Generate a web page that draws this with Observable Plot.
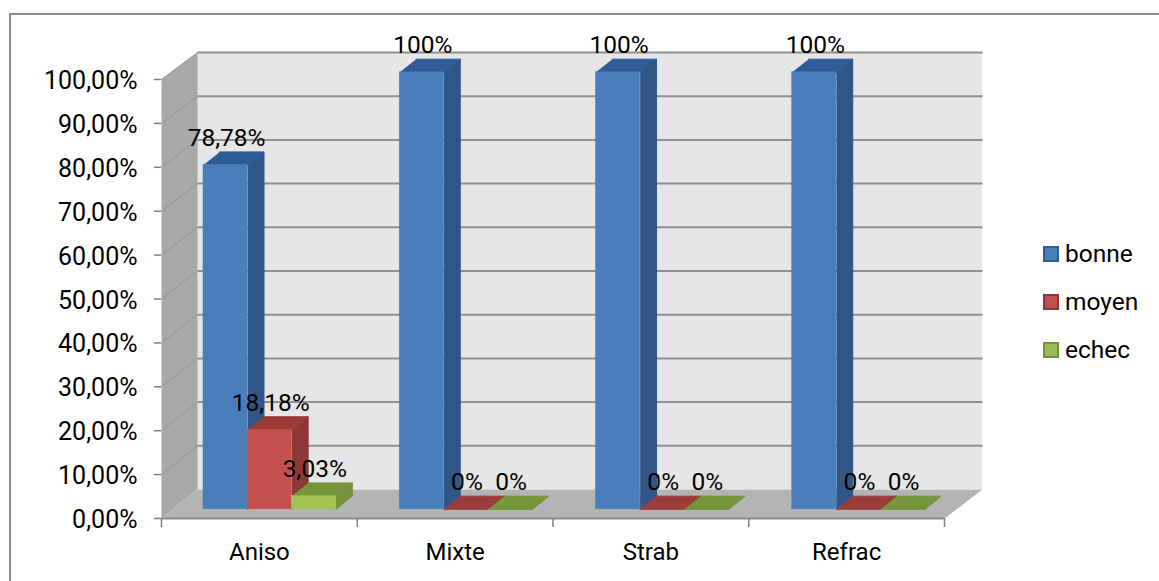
<!DOCTYPE html>
<html lang="fr">
<head>
<meta charset="utf-8">
<script src="https://cdn.jsdelivr.net/npm/d3@7"></script>
<script src="https://cdn.jsdelivr.net/npm/@observablehq/plot@0.6"></script>
<style>
  html, body { margin: 0; padding: 0; background: #fff; }
  #page { position: relative; width: 1159px; height: 581px; overflow: hidden; }
  #border { position: absolute; left: 9px; top: 13px; right: 0; bottom: 0; border-top: 2px solid #8c8c8c; border-left: 2px solid #8c8c8c; }
  #chart { position: absolute; left: 0; top: 0; }
  #chart svg { display: block; background: transparent; }
  #legend { position: absolute; left: 1043px; top: 229px; font: 24.5px Roboto, Arial, sans-serif; color: #000; }
  #legend div { display: flex; align-items: center; height: 48px; }
  #legend i { display: block; width: 16px; height: 16px; box-sizing: border-box; border: 2px solid; margin-right: 6px; position: relative; top: 1px; }
</style>
</head>
<body>
<div id="page">
  <div id="border"></div>
  <div id="chart"></div>
  <div id="legend"></div>
</div>
<script>
// Treatment outcome by amblyopia type, in percent
const categories = ["Aniso", "Mixte", "Strab", "Refrac"];
const seriesNames = ["bonne", "moyen", "echec"];
const bonne = [78.78, 100, 100, 100];
const moyen = [18.18, 0, 0, 0];
const echec = [3.03, 0, 0, 0];
const seriesValues = [bonne, moyen, echec];
const yTicks = [0, 10, 20, 30, 40, 50, 60, 70, 80, 90, 100];

const frontColors = ["#4a7ebb", "#c4504d", "#a2c455"];
const sideColors = ["#2f5686", "#8f3735", "#76923c"];
const topColors = ["#2f5c96", "#9c3c39", "#76963c"];
const legendColors = ["#4a7ebb", "#c0504d", "#9bbb59"];
const legendEdges = ["#2f5f97", "#8f3735", "#76923c"];

// Oblique projection of the 3D box: depth 0 is the axis plane, depth 1 the back wall
const width = 1159, height = 581;
const margin = {top: 79, right: 215, bottom: 63, left: 161};
const pxPerCat = (width - margin.left - margin.right) / categories.length;
const pxPerPct = (height - margin.top - margin.bottom) / 100;
const depthDx = 36 / pxPerCat, depthDy = 29 / pxPerPct;
const innerX = 785 / 783, innerY = 437 / 439;
const px = (c, d) => c * (d > 0 ? innerX : 1) + d * depthDx;
const py = (v, d) => v * (d > 0 ? innerY : 1) + d * depthDy;

const barFront = 0.316, barBack = 0.77;
const barStart = 0.156, barWidth = 0.225;

const polys = [];
const addPoly = (id, color, pts) => pts.forEach(([c, v, d]) => polys.push({id, color, x: px(c, d), y: py(v, d)}));

const fronts = [], labels = [];
categories.forEach((cat, i) => {
  seriesNames.forEach((name, s) => {
    const v = seriesValues[s][i];
    const l = i + barStart + s * barWidth, r = l + barWidth;
    addPoly(`${cat}-${name}-side`, sideColors[s], [[r, 0, barFront], [r, 0, barBack], [r, v, barBack], [r, v, barFront]]);
    addPoly(`${cat}-${name}-top`, topColors[s], [[l, v, barFront], [r, v, barFront], [r, v, barBack], [l, v, barBack]]);
    // a zero value has no front face, only its flat top
    if (v > 0) fronts.push({x1: px(l, barFront), x2: px(r, barFront), y1: py(0, barFront), y2: py(v, barFront), fill: frontColors[s]});
    labels.push({
      x: px((l + r) / 2, barFront), y: py(v, barFront),
      text: String(v).replace(".", ",") + "%"
    });
  });
});

// Walls and floor of the box
const nCat = categories.length;
const walls = [];
const addWall = (id, color, pts) => pts.forEach(([c, v, d]) => walls.push({id, color, x: px(c, d), y: py(v, d)}));
addWall("side", "#a9a9a9", [[0, 0, 0], [0, 100, 0], [0, 100, 1], [0, 0, 1]]);
addWall("floor", "#b4b4b4", [[0, 0, 0], [nCat, 0, 0], [nCat, 0, 1], [0, 0, 1]]);

const chart = Plot.plot({
  width, height,
  marginTop: margin.top, marginRight: margin.right, marginBottom: margin.bottom, marginLeft: margin.left,
  style: {fontFamily: 'Roboto, Arial, sans-serif', fontSize: "25px", color: "#000", background: "transparent", overflow: "visible"},
  x: {type: "linear", domain: [0, nCat], axis: null},
  y: {type: "linear", domain: [0, 100], axis: null},
  color: {type: "identity"},
  marks: [
    // back wall
    Plot.rect([0], {x1: px(0, 1), x2: px(nCat, 1), y1: py(0, 1), y2: py(100, 1), fill: "#e6e6e6", inset: 0}),
    Plot.line(walls, {x: "x", y: "y", z: "id", fill: "color", stroke: "none"}),
    // gridlines on the back wall and running across the side wall
    Plot.link(yTicks.slice(1), {x1: px(0, 1), x2: px(nCat, 1), y1: v => py(v, 1), y2: v => py(v, 1), stroke: "#8f8f8f", strokeWidth: 2}),
    Plot.link(yTicks.slice(1), {x1: px(0, 0), x2: px(0, 1), y1: v => py(v, 0), y2: v => py(v, 1), stroke: "#969696", strokeWidth: 1}),
    // bars: side and top faces first, then the front faces
    Plot.line(polys, {x: "x", y: "y", z: "id", fill: "color", stroke: "color", strokeWidth: 1}),
    Plot.rect(fronts, {x1: "x1", x2: "x2", y1: "y1", y2: "y2", fill: "fill", stroke: "fill", strokeWidth: 0.5, inset: 0}),
    // axes on the front plane
    Plot.ruleY([0], {stroke: "#8a8a8a", strokeWidth: 2}),
    Plot.axisY({ticks: yTicks, tickSize: 7, text: null, label: null, stroke: "#808080", strokeWidth: 1.5}),
    Plot.axisY({ticks: yTicks, tickSize: 0, tickPadding: 24, tickFormat: v => v.toFixed(2).replace(".", ",") + "%", label: null, fill: "#000", fontSize: 25, dy: 1.5}),
    Plot.axisX({ticks: d3.range(nCat + 1), tickSize: 9, text: null, label: null, stroke: "#808080", strokeWidth: 1.5}),
    Plot.axisX({ticks: categories.map((_, i) => i + 0.5), tickSize: 0, tickPadding: 24, tickFormat: v => categories[Math.floor(v)], label: null, fill: "#000", fontSize: 24}),
    // value labels above the bars
    Plot.text(labels, {x: "x", y: "y", text: "text", dx: 1, dy: -27, fill: "#000", fontSize: 24.5})
  ]
});
document.getElementById("chart").appendChild(chart);

// Legend to the right of the box
const legend = d3.select("#legend");
seriesNames.forEach((name, s) => {
  const row = legend.append("div");
  row.append("i").style("background", legendColors[s]).style("border-color", legendEdges[s]);
  row.append("span").text(name);
});
</script>
</body>
</html>
